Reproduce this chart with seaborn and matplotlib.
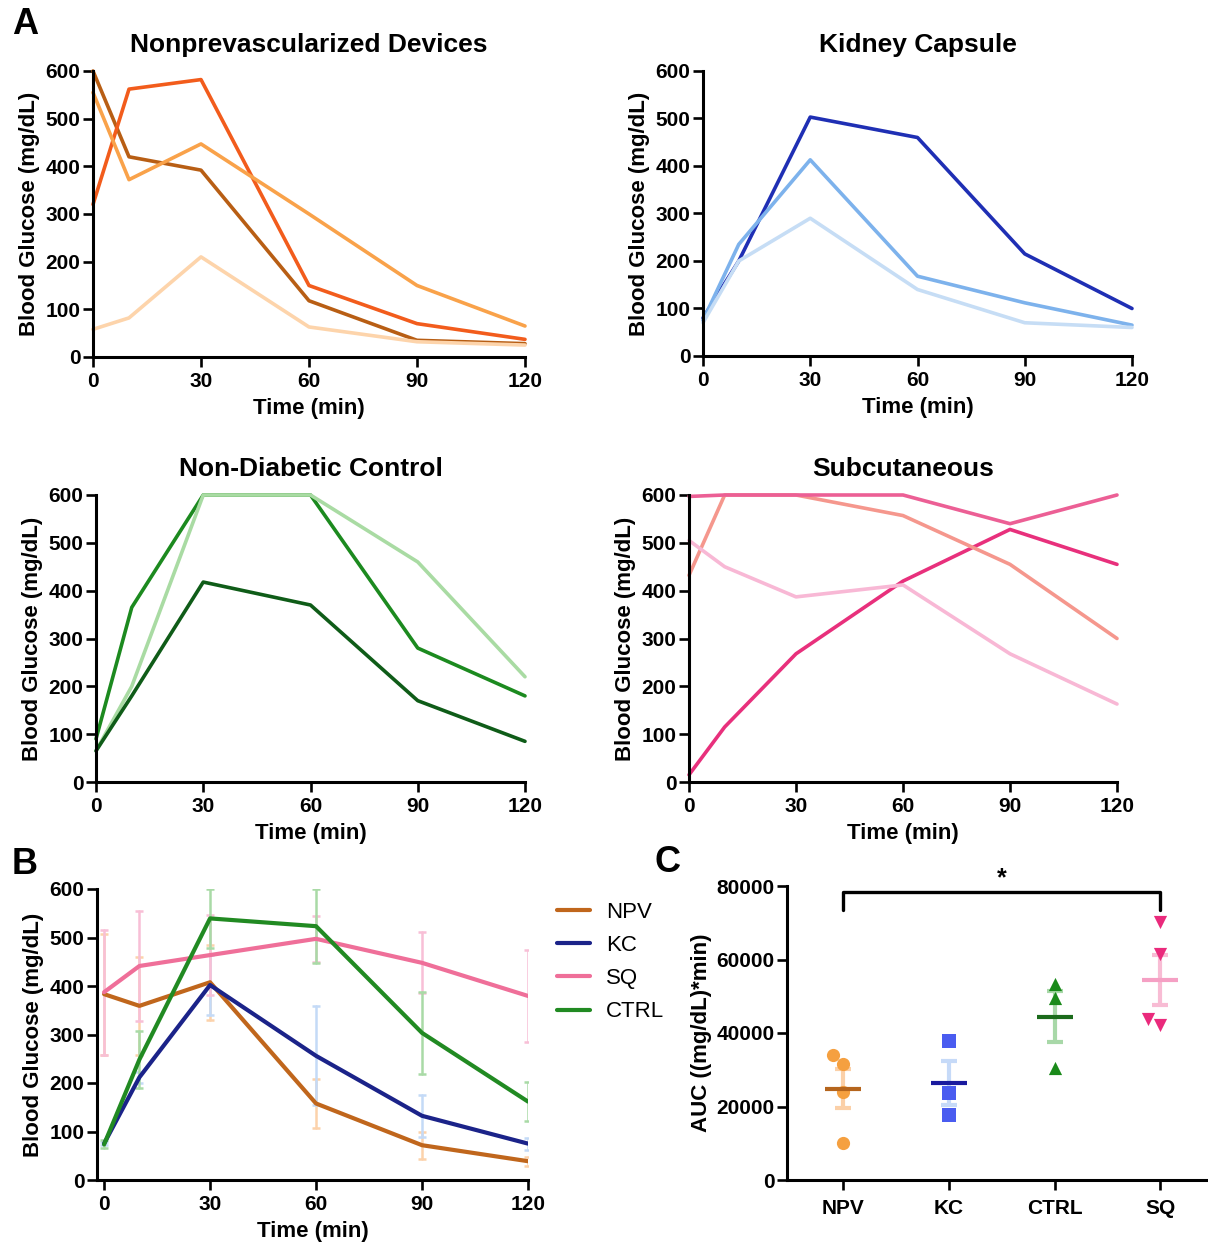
import numpy as np
import pandas as pd
import matplotlib
matplotlib.use("Agg")
import matplotlib.pyplot as plt
import seaborn as sns

# ---------------- data ----------------
time_min = [0, 10, 30, 60, 90, 120]
time_ticks = [0, 30, 60, 90, 120]

# Nonprevascularized devices (individual animals)
npv_1 = [600, 420, 392, 118, 35, 28]
npv_2 = [320, 562, 582, 150, 70, 37]
npv_3 = [555, 372, 447, 300, 150, 65]
npv_4 = [58, 82, 210, 63, 32, 25]
# Kidney capsule
kc_1 = [80, 200, 503, 460, 215, 100]
kc_2 = [75, 235, 413, 168, 112, 65]
kc_3 = [70, 200, 290, 140, 70, 60]
# Non-diabetic control
ctrl_1 = [90, 365, 600, 600, 280, 180]
ctrl_2 = [65, 200, 600, 600, 460, 220]
ctrl_3 = [65, 180, 418, 370, 170, 85]
# Subcutaneous
sq_1 = [15, 115, 268, 420, 528, 455]
sq_2 = [432, 600, 600, 557, 455, 300]
sq_3 = [597, 600, 600, 600, 540, 600]
sq_4 = [505, 450, 387, 412, 268, 163]

# AUC values (panel C)
auc_groups = ["NPV", "KC", "CTRL", "SQ"]
auc_npv = [34000, 31500, 24000, 10000]
auc_kc = [37700, 23800, 17700]
auc_ctrl = [53200, 49600, 30600]
auc_sq = [70300, 61400, 43800, 42200]

# colours
npv_cols = ["#b85e14", "#f25c1c", "#f9a24a", "#fdd4ab"]
kc_cols = ["#1f2fb4", "#7db2ec", "#c6ddf5"]
ctrl_cols = ["#1c8a1f", "#a9dba3", "#0f5c18"]
sq_cols = ["#e8307c", "#f5978d", "#ec5f95", "#f8b8d5"]

mean_cols = {"NPV": "#c0661c", "KC": "#1b2389", "SQ": "#ef6f99", "CTRL": "#218a22"}
err_cols = {"NPV": "#fcd2ab", "KC": "#c4daf7", "SQ": "#f8bfd6", "CTRL": "#a9daa6"}
auc_pt_cols = {"NPV": "#f5a040", "KC": "#4a5cf0", "CTRL": "#1a8a1a", "SQ": "#ea2a7c"}
auc_mean_cols = {"NPV": "#b5651d", "KC": "#1a1a9e", "CTRL": "#1b6b1b", "SQ": "#f5a0c4"}
auc_err_cols = {"NPV": "#fbd0a8", "KC": "#c6daf8", "CTRL": "#a8d8a8", "SQ": "#f8bcd4"}
auc_markers = {"NPV": "o", "KC": "s", "CTRL": "^", "SQ": "v"}

# ---------------- tidy tables ----------------
def long_table(group, series):
    rows = []
    for k, s in enumerate(series):
        for t, v in zip(time_min, s):
            rows.append({"group": group, "animal": f"{group}{k+1}", "time": t, "glucose": v})
    return pd.DataFrame(rows)

df_npv = long_table("NPV", [npv_1, npv_2, npv_3, npv_4])
df_kc = long_table("KC", [kc_1, kc_2, kc_3])
df_ctrl = long_table("CTRL", [ctrl_1, ctrl_2, ctrl_3])
df_sq = long_table("SQ", [sq_1, sq_2, sq_3, sq_4])

auc_values = {"NPV": auc_npv, "KC": auc_kc, "CTRL": auc_ctrl, "SQ": auc_sq}
df_auc = pd.DataFrame([{"group": g, "auc": v} for g in auc_groups for v in auc_values[g]])

# ---------------- style ----------------
sns.set_style("ticks")
plt.rcParams["font.family"] = ["Liberation Sans", "DejaVu Sans"]
plt.rcParams.update({
    "font.weight": "bold",
    "axes.labelweight": "bold",
    "axes.titleweight": "bold",
    "axes.linewidth": 2.2,
    "xtick.major.width": 1.9,
    "ytick.major.width": 1.9,
    "xtick.major.size": 7,
    "ytick.major.size": 7,
    "xtick.labelsize": 15,
    "ytick.labelsize": 15,
    "axes.labelsize": 16,
    "xtick.color": "black",
    "ytick.color": "black",
    "axes.edgecolor": "black",
    "text.color": "black",
    "axes.labelcolor": "black",
})

W, H = 1208, 1247
fig = plt.figure(figsize=(W / 100, H / 100), dpi=100)


def add_ax(l, t, r, b):
    return fig.add_axes([l / W, 1 - b / H, (r - l) / W, (b - t) / H])


def style_time_axis(ax, xmin=0):
    ax.set_xlim(xmin, 120)
    ax.set_ylim(0, 600)
    ax.set_xticks(time_ticks)
    ax.set_yticks(range(0, 601, 100))
    ax.set_xlabel("Time (min)", labelpad=5)
    ax.set_ylabel("Blood Glucose (mg/dL)", labelpad=4)
    sns.despine(ax=ax)
    ax.tick_params(axis="x", pad=4)
    ax.tick_params(axis="y", pad=2)


def panel_a(ax, df, cols, title):
    sns.lineplot(data=df, x="time", y="glucose", hue="animal", palette=cols,
                 linewidth=2.6, legend=False, ax=ax, clip_on=False,
                 errorbar=None)
    style_time_axis(ax)
    ax.set_title(title, fontsize=19, pad=14)


ax1 = add_ax(93, 71, 525, 357)
panel_a(ax1, df_npv, npv_cols, "Nonprevascularized Devices")
ax2 = add_ax(703, 71, 1132, 356)
panel_a(ax2, df_kc, kc_cols, "Kidney Capsule")
ax3 = add_ax(96, 495, 525, 782)
panel_a(ax3, df_ctrl, ctrl_cols, "Non-Diabetic Control")
ax4 = add_ax(689, 495, 1117, 782)
panel_a(ax4, df_sq, sq_cols, "Subcutaneous")

# ---------------- panel B ----------------
axB = add_ax(97, 889, 528, 1180)
for g, d in [("NPV", df_npv), ("KC", df_kc), ("SQ", df_sq), ("CTRL", df_ctrl)]:
    sns.lineplot(data=d, x="time", y="glucose", errorbar="se", err_style="bars",
                 color=mean_cols[g], linewidth=3, label=g, ax=axB, zorder=3,
                 err_kws=dict(ecolor=err_cols[g], elinewidth=1.8, capsize=3,
                              capthick=1.8, zorder=2))
style_time_axis(axB, xmin=-2)
leg = axB.legend(loc="upper left", bbox_to_anchor=(1.022, 1.025), frameon=False,
                 prop={"weight": "normal", "size": 16}, handlelength=1.45,
                 handletextpad=0.75, labelspacing=0.55)
for line in leg.get_lines():
    line.set_linewidth(3)

# ---------------- panel C ----------------
axC = add_ax(787, 886, 1208, 1180)
for i, g in enumerate(auc_groups):
    sub = df_auc[df_auc["group"] == g]
    sns.swarmplot(data=sub, x="group", y="auc", order=auc_groups,
                  marker=auc_markers[g], color=auc_pt_cols[g], size=9.5,
                  linewidth=0, ax=axC, zorder=3)
    vals = np.asarray(auc_values[g], dtype=float)
    m = vals.mean()
    se = vals.std(ddof=1) / np.sqrt(len(vals))
    axC.errorbar([i], [m], yerr=[se], fmt="none", ecolor=auc_err_cols[g],
                 elinewidth=3, capsize=6, capthick=3, zorder=2)
    axC.hlines(m, i - 0.17, i + 0.17, color=auc_mean_cols[g], linewidth=3, zorder=4)

axC.set_xlim(-0.53, 3.45)
axC.set_ylim(0, 80000)
axC.set_yticks(range(0, 80001, 20000))
axC.set_xlabel("")
axC.set_ylabel("AUC ((mg/dL)*min)", labelpad=3)
sns.despine(ax=axC)
axC.tick_params(axis="x", labelsize=15, pad=7)
axC.tick_params(axis="y", labelsize=15, pad=2)

# significance bracket NPV vs SQ
i0, i1 = auc_groups.index("NPV"), auc_groups.index("SQ")
axC.plot([i0, i0, i1, i1], [73500, 78500, 78500, 73500], color="black",
         linewidth=2.4, clip_on=False)
axC.text((i0 + i1) / 2, 78900, "*", ha="center", va="bottom", fontsize=18,
         fontweight="bold")

# panel letters
fig.text(12 / W, 1 - 24 / H, "A", fontsize=26, fontweight="bold", va="center")
fig.text(12 / W, 1 - 864 / H, "B", fontsize=26, fontweight="bold", va="center")
fig.text(654 / W, 1 - 862 / H, "C", fontsize=26, fontweight="bold", va="center")

fig.savefig("out.png", dpi=100)
